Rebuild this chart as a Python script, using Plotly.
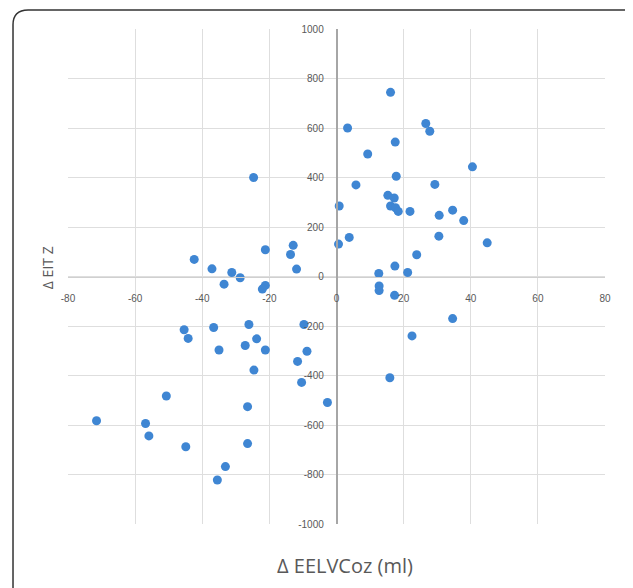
import plotly.graph_objects as go

# Data (Δ EELVCO2 in ml, Δ EIT Z)
delta_eelv = [
    16.1, 3.3, 26.6, 27.8, 17.5, 9.3, 40.5, 17.8, 5.8, 29.3,
    15.3, 17.2, 16.1, 17.6, 18.4, 0.8, 21.9, 34.6, 30.6, 37.9,
    3.8, 0.6, 30.5, 44.9, 23.9, 17.4, 12.6, 21.2, 12.7, 12.7,
    17.3, 34.6, 22.5, 15.9,
    -24.7, -21.2, -12.9, -13.7, -42.4, -37.1, -31.2, -28.7, -33.5, -11.9,
    -21.2, -22.1, -45.4, -44.2, -36.6, -26.1, -9.7, -23.8, -27.2, -35.0,
    -21.2, -8.8, -11.6, -24.6, -10.4, -50.7, -2.7, -26.5, -71.5, -56.9,
    -55.9, -44.9, -26.5, -33.1, -35.5,
]
delta_eit = [
    744, 600, 618, 587, 543, 495, 443, 405, 370, 372,
    328, 317, 285, 278, 263, 285, 263, 268, 247, 226,
    158, 131, 163, 136, 88, 42, 12, 16, -38, -57,
    -76, -170, -240, -409,
    400, 108, 126, 89, 69, 31, 16, -5, -31, 30,
    -36, -51, -215, -250, -206, -194, -194, -252, -279, -297,
    -297, -302, -343, -378, -428, -483, -509, -526, -583, -594,
    -644, -688, -675, -768, -822,
]

x_ticks = [-80, -60, -40, -20, 0, 20, 40, 60, 80]
y_ticks = [-1000, -800, -600, -400, -200, 0, 200, 400, 600, 800, 1000]
x_title = "Δ EELVCoz (ml)"
y_title = "Δ EIT Z"

fig = go.Figure(go.Scatter(
    x=delta_eelv, y=delta_eit, mode="markers",
    marker=dict(color="#3f86d3", size=9, line=dict(width=0)),
    hoverinfo="x+y",
))

tickfont = dict(family="Liberation Sans, Arial", size=10, color="#595959")
fig.update_layout(
    width=625, height=580,
    margin=dict(l=60, r=28, t=21, b=64),
    paper_bgcolor="white", plot_bgcolor="white",
    showlegend=False,
    xaxis=dict(
        range=[-80, 80], tickvals=x_ticks, ticktext=[str(v) for v in x_ticks],
        showgrid=True, gridcolor="#dedede", gridwidth=1,
        zeroline=False, showline=True, linecolor="#d0d0d0", linewidth=1,
        anchor="free", position=0.5, ticks="", tickfont=tickfont,
        ticklabelstandoff=12,
    ),
    yaxis=dict(
        range=[-1000, 1000], tickvals=y_ticks, ticktext=[str(v) for v in y_ticks],
        showgrid=True, gridcolor="#dedede", gridwidth=1,
        zeroline=False, showline=True, linecolor="#a6a6a6", linewidth=1.5,
        anchor="free", position=0.5, ticks="", tickfont=tickfont,
        ticklabelstandoff=10,
    ),
)

# rounded frame around the figure (paper coordinates)
L, R, T, B = -0.1024, 1.062, 1.0384, -0.14
rx, ry = 0.028, 0.03
path = (f"M {L},{B} L {L},{T-ry} Q {L},{T} {L+rx},{T} "
        f"L {R-rx},{T} Q {R},{T} {R},{T-ry} L {R},{B}")
fig.add_shape(type="path", path=path, xref="paper", yref="paper",
              line=dict(color="#333333", width=1.5))

fig.add_annotation(text=x_title, xref="paper", yref="paper",
                   x=0.516, y=-0.083, xanchor="center", yanchor="middle",
                   showarrow=False,
                   font=dict(family="Open Sans, Arial", size=20, color="#595959"))
fig.add_annotation(text=y_title, xref="paper", yref="paper",
                   x=-0.039, y=0.517, xanchor="center", yanchor="middle",
                   showarrow=False, textangle=-90,
                   font=dict(family="Open Sans, Arial", size=14, color="#595959"))

fig.write_html("out.html")
